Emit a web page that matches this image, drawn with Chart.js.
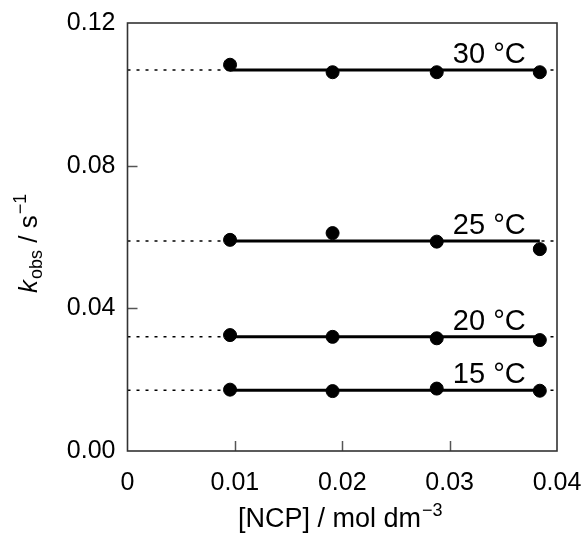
<!DOCTYPE html>
<html>
<head>
<meta charset="utf-8">
<script src="https://cdn.jsdelivr.net/npm/chart.js@4"></script>
<style>
html,body{margin:0;padding:0;background:#fff;}
#wrap{width:583px;height:535px;position:relative;}
</style>
</head>
<body>
<div id="wrap"><canvas id="c"></canvas></div>
<script>
// ---- data ----
const ncp = [0.00955, 0.0191, 0.0288, 0.0384];          // [NCP] / mol dm^-3
const k15 = [0.0172, 0.0168, 0.0175, 0.0169];
const k20 = [0.0325, 0.0320, 0.0316, 0.0311];
const k25 = [0.0592, 0.0611, 0.0587, 0.0566];
const k30 = [0.1083, 0.1062, 0.1062, 0.1062];
const fitK = [0.0170, 0.0320, 0.0589, 0.1068];           // mean k_obs lines
const tempLabels = ['15 °C', '20 °C', '25 °C', '30 °C'];
const xTicks = [0, 0.01, 0.02, 0.03, 0.04];
const yTicks = [0, 0.04, 0.08, 0.12];

const series = [k15, k20, k25, k30];
const FONT = '"Liberation Sans", Arial, Helvetica, sans-serif';

const datasets = [];
series.forEach((arr, i) => {
  datasets.push({
    type: 'scatter',
    data: ncp.map((x, j) => ({x: x, y: arr[j]})),
    backgroundColor: '#000', borderColor: '#000',
    pointRadius: 6.5, pointHoverRadius: 6.5, showLine: false, order: 0
  });
  datasets.push({
    type: 'line',
    data: [{x: ncp[0], y: fitK[i]}, {x: ncp[ncp.length - 1], y: fitK[i]}],
    borderColor: '#000', borderWidth: 3, pointRadius: 0, fill: false, order: 1
  });
  datasets.push({
    type: 'line',
    data: [{x: xTicks[0], y: fitK[i]}, {x: xTicks[xTicks.length - 1], y: fitK[i]}],
    borderColor: '#000', borderWidth: 1.5, borderDash: [3, 6], pointRadius: 0, fill: false, order: 2
  });
});

const decor = {
  id: 'decor',
  afterDatasetsDraw(chart) {
    const ctx = chart.ctx, a = chart.chartArea;
    const xs = chart.scales.x, ys = chart.scales.y;
    ctx.save();
    // inward ticks
    ctx.strokeStyle = '#555'; ctx.lineWidth = 1.5;
    yTicks.slice(1, -1).forEach(v => {
      const p = Math.round(ys.getPixelForValue(v)) + 0.5;
      ctx.beginPath(); ctx.moveTo(a.left, p); ctx.lineTo(a.left + 10, p); ctx.stroke();
    });
    xTicks.slice(1, -1).forEach(v => {
      const p = Math.round(xs.getPixelForValue(v)) + 0.5;
      ctx.beginPath(); ctx.moveTo(p, a.bottom); ctx.lineTo(p, a.bottom - 10); ctx.stroke();
    });
    // frame
    ctx.strokeStyle = '#333'; ctx.lineWidth = 1.6;
    ctx.strokeRect(a.left, a.top, a.right - a.left, a.bottom - a.top);
    // temperature labels
    ctx.fillStyle = '#000';
    ctx.font = '29px ' + FONT;
    ctx.textBaseline = 'alphabetic'; ctx.textAlign = 'left';
    fitK.forEach((v, i) => {
      ctx.fillText(tempLabels[i], xs.getPixelForValue(0.0303), ys.getPixelForValue(v) - 7);
    });
    // x title
    let x = 238, y = 527;
    ctx.font = '27px ' + FONT;
    const t1 = '[NCP] / mol dm';
    ctx.fillText(t1, x, y);
    x += ctx.measureText(t1).width + 1;
    ctx.font = '18px ' + FONT;
    ctx.fillText('\u22123', x, y - 11);
    // y title (rotated)
    ctx.translate(37, 293);
    ctx.rotate(-Math.PI / 2);
    x = 0;
    ctx.font = 'italic 26px ' + FONT;
    ctx.fillText('k', x, 0); x += ctx.measureText('k').width + 1;
    ctx.font = '18px ' + FONT;
    ctx.fillText('obs', x, 5); x += ctx.measureText('obs').width;
    ctx.font = '26px ' + FONT;
    ctx.fillText(' / s', x, 0); x += ctx.measureText(' / s').width + 1;
    ctx.font = '18px ' + FONT;
    ctx.fillText('\u22121', x, -11);
    ctx.restore();
  }
};

new Chart(document.getElementById('c'), {
  data: {datasets},
  options: {
    responsive: true, maintainAspectRatio: false, animation: false,
    events: [],
    layout: {padding: {left: 0, right: 26, top: 23, bottom: 0}},
    plugins: {legend: {display: false}, tooltip: {enabled: false}},
    scales: {
      x: {
        type: 'linear', min: xTicks[0], max: xTicks[xTicks.length - 1],
        afterBuildTicks: s => { s.ticks = xTicks.map(v => ({value: v})); },
        afterFit: s => { s.height = 84; s.paddingLeft = 0; s.paddingRight = 0; },
        grid: {display: false, drawTicks: false},
        border: {display: false},
        ticks: {
          padding: 17, color: '#000', font: {family: FONT, size: 25},
          callback: v => v === 0 ? '0' : Number(v).toFixed(2)
        }
      },
      y: {
        type: 'linear', min: yTicks[0], max: yTicks[yTicks.length - 1],
        afterBuildTicks: s => { s.ticks = yTicks.map(v => ({value: v})); },
        afterFit: s => { s.width = 127.5; s.paddingTop = 0; s.paddingBottom = 0; },
        grid: {display: false, drawTicks: false},
        border: {display: false},
        ticks: {
          padding: 12, color: '#000', font: {family: FONT, size: 25},
          callback: v => Number(v).toFixed(2)
        }
      }
    }
  },
  plugins: [decor]
});
</script>
</body>
</html>
